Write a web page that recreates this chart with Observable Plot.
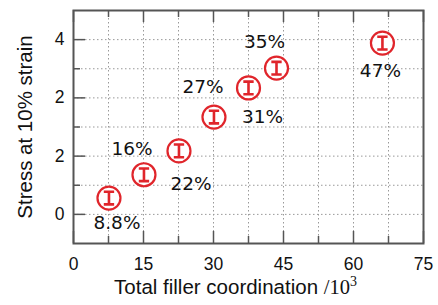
<!DOCTYPE html>
<html><head><meta charset="utf-8">
<script src="https://cdn.jsdelivr.net/npm/d3@7"></script>
<script src="https://cdn.jsdelivr.net/npm/@observablehq/plot@0.6"></script>
<style>body{margin:0;background:#fff}</style>
</head><body><div id="chart"></div>
<script>
// Data
const fillerCoord = [7.6, 15.1, 22.6, 30.1, 37.5, 43.5, 66.2];
const stress = [0.28, 0.68, 1.09, 1.67, 2.17, 2.51, 2.94];
const fillerPct = ["8.8%", "16%", "22%", "27%", "31%", "35%", "47%"];
const xTickValues = [0, 15, 30, 45, 60, 75];
const xMinorValues = [7.5, 22.5, 37.5, 52.5, 67.5];
const yTickValues = [0, 1, 2, 3];
const yTickLabels = ["0", "2", "2", "4"];
const yMinorValues = [0.5, 1.5, 2.5];
const xTitle = "Total filler coordination";
const xTitleUnit = "/10";
const xTitleExp = "3";
const yTitle = "Stress at 10% strain";

// styling
const red = "#e0252b";
const axisColor = "#555";
const labelOffsets = [[8, 25], [-12, -26], [12, 33], [-11, -30], [14, 29], [-12, -26], [-2, 28]];
const W = 438, H = 305, mL = 73, mR = 15, mT = 10, mB = 62;
const pW = W - mL - mR, pH = H - mT - mB;

const points = fillerCoord.map((x, i) => ({x, y: stress[i], label: fillerPct[i], i}));
const gridX = [...xTickValues, ...xMinorValues].filter(v => v > 0 && v < 75);
const gridY = [...yTickValues, ...yMinorValues];

const iBeam = {
  draw(ctx, size) {
    const r = Math.sqrt(size / Math.PI);
    const h = r * 0.55, w = r * 0.45;
    ctx.moveTo(-w, -h); ctx.lineTo(w, -h);
    ctx.moveTo(0, -h); ctx.lineTo(0, h);
    ctx.moveTo(-w, h); ctx.lineTo(w, h);
  }
};

const sans = "'Liberation Sans', Arial, sans-serif";
const chart = Plot.plot({
  width: W, height: H,
  marginLeft: mL, marginRight: mR, marginTop: mT, marginBottom: mB,
  x: {domain: [0, 75], axis: null},
  y: {domain: [-0.5, 3.5], axis: null},
  style: {background: "#fff"},
  marks: [
    Plot.ruleX(gridX, {x: d => d, stroke: "#999", strokeDasharray: "1.5,2.5", strokeWidth: 1}),
    Plot.ruleY(gridY, {y: d => d, stroke: "#999", strokeDasharray: "1.5,2.5", strokeWidth: 1}),
    // inward ticks
    Plot.tickX(xTickValues, {x: d => d, insetTop: pH - 12, stroke: axisColor, strokeWidth: 1.5}),
    Plot.tickX(xTickValues, {x: d => d, insetBottom: pH - 12, stroke: axisColor, strokeWidth: 1.5}),
    Plot.tickX(xMinorValues, {x: d => d, insetTop: pH - 7, stroke: axisColor, strokeWidth: 1.5}),
    Plot.tickX(xMinorValues, {x: d => d, insetBottom: pH - 7, stroke: axisColor, strokeWidth: 1.5}),
    Plot.tickY(yTickValues, {y: d => d, insetRight: pW - 12, stroke: axisColor, strokeWidth: 1.5}),
    Plot.tickY(yMinorValues, {y: d => d, insetRight: pW - 7, stroke: axisColor, strokeWidth: 1.5}),
    Plot.frame({stroke: axisColor, strokeWidth: 2}),
    // tick labels
    Plot.text(xTickValues, {x: d => d, text: d => String(d), frameAnchor: "bottom", dy: 26, fontSize: 17.5, fontFamily: sans, fill: "#111"}),
    Plot.text(yTickValues, {y: d => d, text: (d, i) => yTickLabels[i], frameAnchor: "left", dx: -9, textAnchor: "end", fontSize: 17.5, fontFamily: sans, fill: "#111"}),
    // axis titles
    Plot.text([yTitle], {text: d => d, frameAnchor: "left", textAnchor: "middle", rotate: -90, dx: -48, fontSize: 20.5, fontFamily: sans, fill: "#111"}),
    Plot.text([xTitle], {text: d => d, frameAnchor: "bottom", textAnchor: "middle", dx: -13, dy: 50, fontSize: 20.5, fontFamily: sans, fill: "#111"}),
    // markers
    Plot.dot(points, {x: "x", y: "y", r: 11.5, stroke: red, strokeWidth: 2.2, fill: "#fff"}),
    Plot.dot(points, {x: "x", y: "y", r: 11.5, symbol: iBeam, stroke: red, strokeWidth: 2.6, fill: "none"}),
    // percentage labels
    ...points.map((p, i) => Plot.text([p], {x: "x", y: "y", text: "label", dx: labelOffsets[i][0], dy: labelOffsets[i][1], fontSize: 18.5, fontFamily: "'DejaVu Sans', sans-serif", fill: "#111"}))
  ]
});
document.getElementById("chart").appendChild(chart);

// rich x-axis title: add serif unit with superscript
const svg = d3.select(chart);
svg.selectAll("text").filter(function() { return this.textContent === xTitle; }).each(function() {
  const t = d3.select(this);
  t.text(null);
  t.append("tspan").text(xTitle + " ");
  t.append("tspan").attr("font-family", "'Liberation Serif', 'DejaVu Serif', serif").text(xTitleUnit);
  t.append("tspan").attr("font-family", "'Liberation Serif', 'DejaVu Serif', serif").attr("font-size", "14").attr("dy", "-8").text(xTitleExp);
});
</script>
</body></html>
